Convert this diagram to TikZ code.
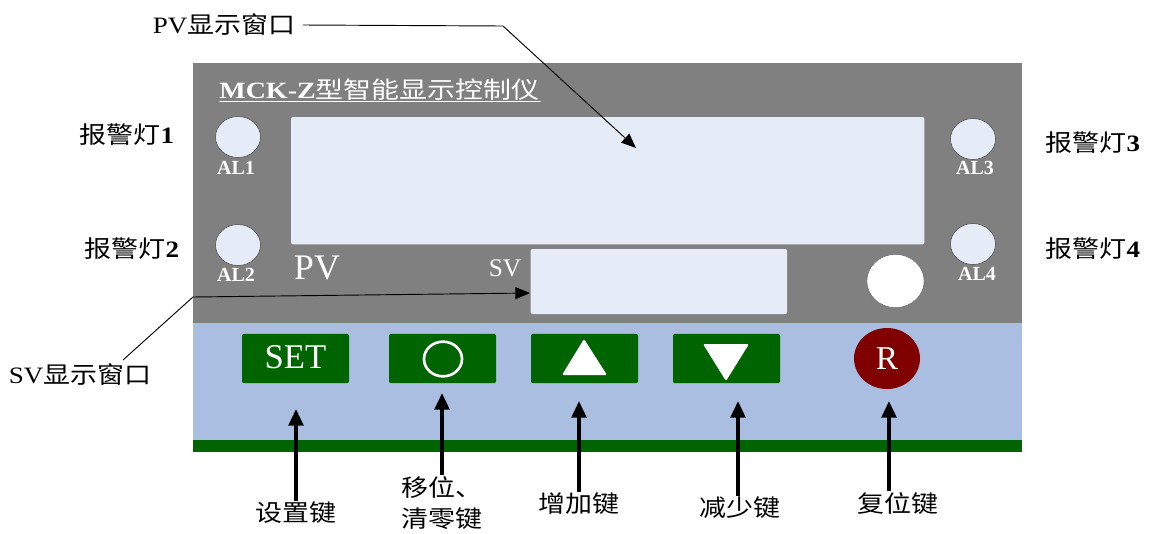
\documentclass[tikz,border=0pt]{standalone}
\usepackage{fontspec}
\usepackage{xcolor}
\usetikzlibrary{arrows.meta,shapes.geometric}
\setmainfont{Liberation Serif}
\newfontfamily\cjk{Noto Sans CJK SC}
\definecolor{panelgray}{HTML}{808080}
\definecolor{keyblue}{HTML}{A9BEE0}
\definecolor{keygreen}{HTML}{006400}
\definecolor{winblue}{HTML}{E5ECF7}
\definecolor{resetred}{HTML}{800000}
\tikzset{
  lamp/.style={ellipse,draw=black!70,line width=0.4pt,fill=winblue,minimum width=33.75,minimum height=30.75,inner sep=0},
  winbox/.style={rectangle,rounded corners=1.5,fill=winblue,inner sep=0},
  keybox/.style={rectangle,rounded corners=1.5,fill=keygreen,minimum width=80.25,minimum height=37,inner sep=0},
  cnlabel/.style={font=\fontsize{17.6}{23.5}\selectfont\cjk,xscale=1.15,transform shape,inner sep=1pt},
  allabel/.style={font=\fontsize{15}{15}\selectfont\bfseries,text=white,inner sep=0},
  thinline/.style={draw=black,line width=0.7pt},
  thinarrow/.style={thinline,-{Stealth[length=11pt,width=9pt,inset=0pt]}},
  thickarrow/.style={draw=black,line width=2.6pt,-{Stealth[length=12.5pt,width=11pt,inset=0pt]}}
}
\begin{document}
\begin{tikzpicture}[x=0.75pt,y=-0.75pt]
\useasboundingbox (0,0) rectangle (1150,533);
\fill[white] (0,0) rectangle (1150,533);
\fill[panelgray] (193,63) rectangle (1022,323);
\fill[keyblue] (193,323) rectangle (1022,440);
\fill[keygreen] (193,440) rectangle (1022,452);
\node[inner sep=0,anchor=west,text=white,font=\fontsize{17.5}{20}\selectfont,xscale=1.2,transform shape] (title) at (219,90) {\textbf{MCK-Z}{\cjk 型智能显示控制仪}};
\draw[white,line width=0.6pt] (219,101) -- (541,101);
\node[winbox,minimum width=475,minimum height=95.6] (pvwin) at (607.75,180.75) {};
\node[winbox,minimum width=192.4,minimum height=48.75] (svwin) at (658.8,281.5) {};
\node[lamp] (lampa) at (238,137) {};
\node[lamp] (lampb) at (238,245) {};
\node[lamp] (lampc) at (973,139) {};
\node[lamp] (lampd) at (973,244) {};
\node[ellipse,fill=white,draw=black!60,line width=0.4pt,minimum width=43,minimum height=40,inner sep=0] (blank) at (895.5,281) {};
\node[allabel] (ala) at (236,168) {AL1};
\node[allabel] (alb) at (236,275) {AL2};
\node[allabel] (alc) at (975,168) {AL3};
\node[allabel] (ald) at (977,274) {AL4};
\node[inner sep=0,text=white,font=\fontsize{27}{27}\selectfont] (pvtext) at (317,268) {PV};
\node[inner sep=0,text=white,font=\fontsize{19}{19}\selectfont] (svtext) at (505,268) {SV};
\node[keybox] (setkey) at (295.5,358.5) {};
\node[inner sep=0,text=white,font=\fontsize{26}{26}\selectfont] (settext) at (295.5,357) {SET};
\node[keybox] (shiftkey) at (442.5,358.5) {};
\node[ellipse,draw=white,line width=2pt,minimum width=28.5,minimum height=26,inner sep=0] (ring) at (443,359) {};
\node[keybox] (upkey) at (584.5,358.5) {};
\fill[white,rounded corners=1] (584,339) -- (607,375) -- (562,375) -- cycle;
\node[keybox] (downkey) at (726.5,358.5) {};
\fill[white,rounded corners=1] (726,381) -- (749,344) -- (703,344) -- cycle;
\node[ellipse,fill=resetred,minimum width=49.5,minimum height=45.75,inner sep=0,text=white,font=\fontsize{25}{25}\selectfont] (resetkey) at (887,358.5) {R};
\node[cnlabel,inner xsep=5pt] (pvlabel) at (224,25) {{\rmfamily PV}显示窗口};
\node[cnlabel] (svlabel) at (80,375) {{\rmfamily SV}显示窗口};
\node[cnlabel] (alarma) at (127,135) {报警灯{\rmfamily\bfseries 1}};
\node[cnlabel] (alarmb) at (132,249) {报警灯{\rmfamily\bfseries 2}};
\node[cnlabel] (alarmc) at (1093,143) {报警灯{\rmfamily\bfseries 3}};
\node[cnlabel] (alarmd) at (1093,249) {报警灯{\rmfamily\bfseries 4}};
\node[cnlabel] (setlabel) at (296,513) {设置键};
\node[cnlabel,align=left] (shiftlabel) at (442,503) {移位、\\清零键};
\node[cnlabel] (uplabel) at (579,504) {增加键};
\node[cnlabel] (downlabel) at (740,508) {减少键};
\node[cnlabel] (resetlabel) at (898,504) {复位键};
\coordinate (pvbend) at (503,26);
\coordinate (pvtip) at (636,148);
\coordinate (svstart) at (123,360);
\coordinate (svbend) at (193,297);
\coordinate (svtip) at (530,293);
\coordinate (settip) at (296,409);
\coordinate (shifttip) at (442,393);
\coordinate (uptip) at (579,401);
\coordinate (downtip) at (738,401);
\coordinate (resettip) at (889,401);
\draw[thinarrow] (pvlabel.east) -- (pvbend) -- (pvtip);
\draw[thinarrow] (svstart) -- (svbend) -- (svtip);
\draw[thickarrow] (setlabel.north) -- (settip);
\draw[thickarrow] (shiftlabel.north) -- (shifttip);
\draw[thickarrow] (uplabel.north) -- (uptip);
\draw[thickarrow] (downlabel.north -| downtip) -- (downtip);
\draw[thickarrow] (resetlabel.north -| resettip) -- (resettip);
\end{tikzpicture}
\end{document}
